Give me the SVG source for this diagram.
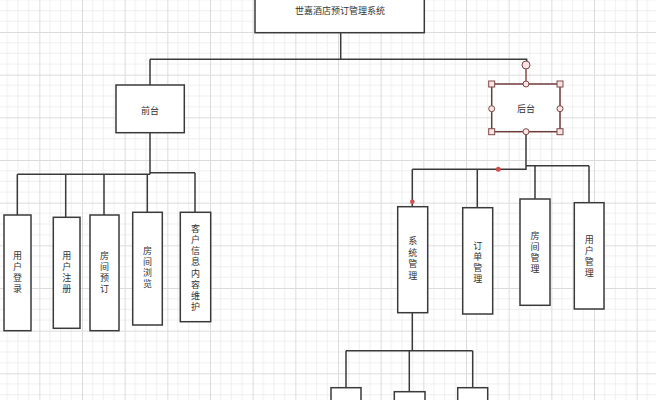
<svg xmlns="http://www.w3.org/2000/svg" width="656" height="400" viewBox="0 0 656 400">
<defs>
<pattern id="grid" patternUnits="userSpaceOnUse" x="-3.333" y="-10.667" width="42.667" height="42.667">
<path d="M10.667 0V42.667M21.333 0V42.667M32 0V42.667M0 10.667H42.667M0 21.333H42.667M0 32H42.667" stroke="#efefef" stroke-width="1" fill="none"/>
<path d="M0.5 0V42.667M0 0.5H42.667" stroke="#dcdcdc" stroke-width="1" fill="none"/>
</pattern>
<style>
.box{fill:#fff;stroke:#3a3a3a;stroke-width:1.5}
.sel{fill:#fff;stroke:#6e3b3b;stroke-width:1.5}
.ln{fill:none;stroke:#3a3a3a;stroke-width:1.5}
.t{font-family:"Noto Sans CJK SC","Noto Sans",sans-serif;font-size:9px;fill:#333;text-anchor:middle;dominant-baseline:central}
.v{font-family:"Noto Sans CJK SC","Noto Sans",sans-serif;font-size:9px;fill:#333;text-anchor:middle;writing-mode:vertical-rl;letter-spacing:2px}
.v8{letter-spacing:2.2px}
.hs{fill:#fbe4e4;stroke:#7a4848;stroke-width:1}
.dot{fill:#d05050}
</style>
</defs>
<rect x="0" y="0" width="656" height="400" fill="#fff"/>
<rect x="0" y="0" width="656" height="400" fill="url(#grid)"/>

<g id="connectors">
<path class="ln" d="M340.7 32.7V59.3M150 59.3H526.7V61M150 59.3V85"/>
<path d="M526 69V84" stroke="#8a4a4a" stroke-width="1.5" fill="none"/>
<path class="ln" d="M150 132.7V174.3M17.3 174.3H150M150 172.7H195M17.3 174.3V215M65.7 174.3V217.3M104 174.3V215M147.3 174.3V212.3M195 172.7V212.3"/>
<path class="ln" d="M526 131.7V169.3M412.3 169.3H526.7M526.7 165.7H589M412.3 169.3V206.7M477.3 169.3V207.7M535 165.7V199M589 165.7V202.7"/>
<path class="ln" d="M412.3 312.7V350.7M346 350.7H472.7M346 350.7V387.7M409.3 350.7V391.7M472.7 350.7V387.7"/>
<circle class="dot" cx="498.3" cy="169.3" r="2.5"/>
<circle class="dot" cx="412.3" cy="201.7" r="2.3"/>
</g>

<g id="n-root"><rect class="box" x="255" y="-30" width="169.3" height="62.7"/><text class="t" x="340" y="10">世嘉酒店预订管理系统</text></g>
<g id="n-front"><rect class="box" x="116" y="85" width="68.3" height="47.7"/><text class="t" x="150" y="110">前台</text></g>
<g id="n-back"><rect class="sel" x="491.7" y="84" width="68.3" height="47.7"/><text class="t" x="526" y="108.7">后台</text>
<circle class="hs" cx="526" cy="65" r="4"/>
<rect class="hs" x="488.7" y="81" width="6" height="6"/><rect class="hs" x="557" y="81" width="6" height="6"/>
<rect class="hs" x="488.7" y="128.7" width="6" height="6"/><rect class="hs" x="557" y="128.7" width="6" height="6"/>
<circle class="hs" cx="526" cy="84" r="3"/><circle class="hs" cx="526" cy="131.7" r="3"/>
<circle class="hs" cx="491.7" cy="108.7" r="3"/><circle class="hs" cx="560" cy="108.7" r="3"/>
</g>

<g id="n-login"><rect class="box" x="4" y="215" width="27" height="115.7"/><text class="v" x="17.5" y="273.5">用户登录</text></g>
<g id="n-register"><rect class="box" x="53.3" y="217.3" width="26.7" height="111"/><text class="v" x="66.7" y="273.5">用户注册</text></g>
<g id="n-book"><rect class="box" x="90" y="215" width="29" height="115.7"/><text class="v" x="104.5" y="273.5">房间预订</text></g>
<g id="n-browse"><rect class="box" x="132.7" y="212.3" width="29.6" height="112.7"/><text class="v" x="147.5" y="268.5">房间浏览</text></g>
<g id="n-custinfo"><rect class="box" x="180.3" y="212.3" width="30.4" height="109.4"/><text class="v v8" x="195.5" y="268.6">客户信息内容维护</text></g>

<g id="n-sys"><rect class="box" x="397.7" y="206.7" width="30" height="106"/><text class="v" x="412.7" y="259.5" style="letter-spacing:2.7px">系统管理</text></g>
<g id="n-order"><rect class="box" x="462.7" y="207.7" width="30" height="106.3"/><text class="v" x="477.7" y="262.7">订单管理</text></g>
<g id="n-room"><rect class="box" x="520" y="199" width="30" height="106.3"/><text class="v" x="535" y="252.7">房间管理</text></g>
<g id="n-user"><rect class="box" x="574.3" y="202.7" width="29.7" height="106.3"/><text class="v" x="589.2" y="257.3">用户管理</text></g>

<g id="n-sub1"><rect class="box" x="331" y="387.7" width="30" height="40"/></g>
<g id="n-sub2"><rect class="box" x="394.3" y="391.7" width="30.7" height="40"/></g>
<g id="n-sub3"><rect class="box" x="457.7" y="387.7" width="30" height="40"/></g>
</svg>
